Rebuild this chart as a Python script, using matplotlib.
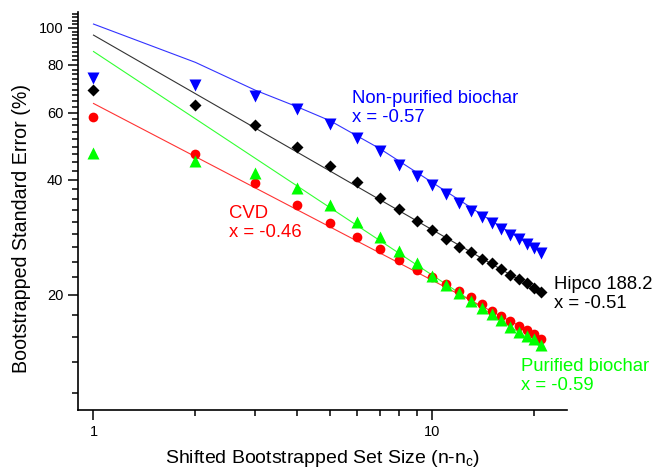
import numpy as np
import matplotlib
matplotlib.use('Agg')
import matplotlib.pyplot as plt
from matplotlib.ticker import FixedLocator, NullFormatter

plt.rcParams['font.family'] = ['Liberation Sans', 'DejaVu Sans']
plt.rcParams['mathtext.fontset'] = 'custom'
plt.rcParams['mathtext.rm'] = 'Liberation Sans'

# shifted set size n - n_c
n = list(range(1, 22))

# bootstrapped standard error (%)
nonpurified = [74.0, 71.0, 66.4, 61.3, 56.1, 51.6, 47.6, 43.7, 41.0, 38.8, 36.7,
               34.9, 33.2, 32.0, 30.9, 29.7, 28.7, 28.0, 27.2, 26.5, 25.8]
hipco = [68.7, 62.8, 55.7, 48.9, 43.5, 39.6, 35.9, 33.5, 31.2, 29.5, 28.0,
         26.7, 25.9, 24.9, 24.2, 23.4, 22.6, 22.0, 21.5, 20.9, 20.3]
cvd = [58.5, 46.7, 39.2, 34.3, 30.9, 28.4, 26.4, 24.7, 23.3, 22.3, 21.4,
       20.5, 19.7, 18.9, 18.2, 17.6, 17.1, 16.6, 16.2, 15.8, 15.3]
purified = [46.9, 44.9, 41.8, 38.0, 34.4, 31.1, 28.4, 26.1, 24.2, 22.4, 21.2,
            20.2, 19.3, 18.5, 17.8, 17.2, 16.5, 16.0, 15.6, 15.3, 14.8]

# fit curves
fit_np_x = [1, 2, 3, 4, 5, 7, 10, 15, 21]
fit_np_y = [102.3, 81.2, 68.7, 62.1, 57.1, 48.3, 39.4, 31.2, 25.9]
fit_x = [1, 21]
fit_hipco = [95.7, 20.3]
fit_cvd = [63.4, 15.5]
fit_purified = [86.7, 14.6]

fig = plt.figure(figsize=(6.54, 4.70), dpi=100)
ax = fig.add_axes([78 / 654, 60 / 470, 489 / 654, 398 / 470])

ax.plot(fit_np_x, fit_np_y, color='#3333ff', lw=0.8)
ax.plot(fit_x, fit_hipco, color='#333333', lw=0.8)
ax.plot(fit_x, fit_purified, color='#33ff33', lw=0.8)
ax.plot(fit_x, fit_cvd, color='#ff3333', lw=0.8)

ax.plot(n, nonpurified, 'v', color='#0000ff', ms=8, mec='none')
ax.plot(n, hipco, 'D', color='black', ms=6.5, mec='none')
ax.plot(n, cvd, 'o', color='#ff0000', ms=7, mec='none')
ax.plot(n, purified, '^', color='#00ff00', ms=8, mec='none')

ax.set_xscale('log')
ax.set_yscale('log')
ax.set_xlim(0.9, 25)
ax.set_ylim(10, 110)

ax.xaxis.set_major_locator(FixedLocator([1, 10]))
ax.xaxis.set_minor_locator(FixedLocator([2, 3, 4, 5, 6, 7, 8, 9, 20]))
ax.set_xticklabels(['1', '10'])
ax.xaxis.set_minor_formatter(NullFormatter())

ax.yaxis.set_major_locator(FixedLocator([20, 40, 60, 80, 100]))
ax.set_yticklabels(['20', '40', '60', '80', '100'])
yminor = [20 + k * 20 / 9 for k in range(-4, 41) if k % 9 != 0]
ax.yaxis.set_minor_locator(FixedLocator(yminor))
ax.yaxis.set_minor_formatter(NullFormatter())

ax.tick_params(which='major', length=7, width=1.1, labelsize=10.5, direction='out')
ax.tick_params(which='minor', length=4, width=1.1, direction='out')
for s in ['top', 'right']:
    ax.spines[s].set_visible(False)
for s in ['left', 'bottom']:
    ax.spines[s].set_linewidth(1.2)

ax.set_xlabel(r'Shifted Bootstrapped Set Size (n-n$_\mathregular{c}$)', fontsize=14)
ax.xaxis.set_label_coords(0.5, -0.095)
ax.set_ylabel('Bootstrapped Standard Error (%)', fontsize=14.1)
ax.yaxis.set_label_coords(-0.097, 0.455)

ax.text(5.81, 61.7, 'Non-purified biochar\nx = -0.57', color='#0000ff', fontsize=13.3,
        ha='left', va='center', linespacing=1.15)
ax.text(2.52, 30.8, 'CVD\nx = -0.46', color='#ff0000', fontsize=13.3,
        ha='left', va='center', linespacing=1.15)
ax.text(22.9, 20.1, 'Hipco 188.2\nx = -0.51', color='black', fontsize=13.3,
        ha='left', va='center', linespacing=1.15)
ax.text(18.3, 12.3, 'Purified biochar\nx = -0.59', color='#00ff00', fontsize=13.3,
        ha='left', va='center', linespacing=1.15)

fig.savefig('out.png', dpi=100)
